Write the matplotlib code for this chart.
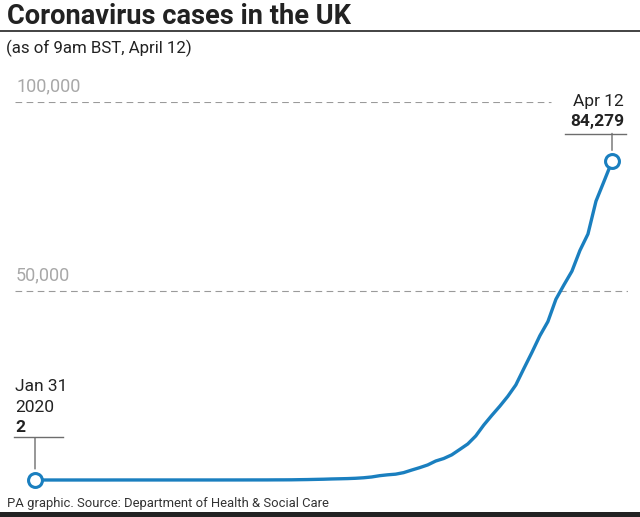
import numpy as np
import matplotlib
matplotlib.use("Agg")
import matplotlib.pyplot as plt
from matplotlib.lines import Line2D

# UK cumulative confirmed cases, 31 Jan - 12 Apr 2020
start_date = "2020-01-31"
cases = [2, 2, 2, 2, 2, 2, 3, 3, 3, 3,
         8, 8, 9, 9, 9, 9, 9, 9, 9, 9,
         9, 9, 9, 9, 13, 13, 15, 19, 20, 23,
         35, 40, 51, 85, 115, 163, 206, 273, 321, 373,
         456, 590, 798, 1140, 1372, 1543, 1950, 2626, 3269, 3983,
         5018, 5683, 6650, 8077, 9529, 11658, 14543, 17089, 19522, 22141,
         25150, 29474, 33718, 38168, 41903, 47806, 51608, 55242, 60733, 65077,
         73758, 78991, 84279]
grid_values = [50000, 100000]
grid_labels = ["50,000", "100,000"]
first_label = ["Jan 31", "2020", "2"]
last_label = ["Apr 12", "84,279"]

dates = np.datetime64(start_date) + np.arange(len(cases))
days = (dates - dates[0]).astype(int)

W, H = 640, 517
blue = "#1a7fbf"
font = "Roboto"
ink = "#222222"

fig = plt.figure(figsize=(W / 100, H / 100), dpi=100)
fig.patch.set_facecolor("white")

# axes placed so day 0 sits at x=35px and the last day at x=612px
px_per_day = (612 - 35) / days[-1]
x0 = -(35 - 15) / px_per_day
x1 = days[-1] + (628 - 612) / px_per_day
ax = fig.add_axes([15 / W, (H - 480) / H, (628 - 15) / W, (480 - 102) / H])
ax.set_xlim(x0, x1)
ax.set_ylim(0, 100000)
ax.axis("off")

# top gridline stops short of the end label
grid_ends = [1.0, 0.875]
for v, lab, xe in zip(grid_values, grid_labels, grid_ends):
    ax.axhline(v, xmax=xe, color="#9a9a9a", lw=0.8, ls=(0, (6, 4)), zorder=1)
    ax.annotate(lab, (x0, v), xytext=(1, 7), textcoords="offset pixels",
                ha="left", va="bottom", fontsize=13, color="#a8a8a8",
                family=font)

ax.plot(days, cases, color=blue, lw=2.4, solid_capstyle="round",
        solid_joinstyle="round", zorder=3, clip_on=False)
ax.plot([days[0], days[-1]], [cases[0], cases[-1]], "o", ms=10,
        mfc="white", mec=blue, mew=2.2, zorder=4, clip_on=False)

# leader lines and labels for first and last points
tick_color = "#6d6d6d"
ax.annotate("", (days[0], cases[0]), xytext=(0, 42), textcoords="offset pixels",
            arrowprops=dict(arrowstyle="-", color=tick_color, lw=1,
                            shrinkA=0, shrinkB=8))
ax.annotate("", (days[-1], cases[-1]), xytext=(0, 28), textcoords="offset pixels",
            arrowprops=dict(arrowstyle="-", color=tick_color, lw=1,
                            shrinkA=0, shrinkB=8))

fig.add_artist(Line2D([14 / W, 63 / W], [1 - 437 / H] * 2, color=tick_color, lw=1))
fig.add_artist(Line2D([565 / W, 626 / W], [1 - 134 / H] * 2, color=tick_color, lw=1))

lab_kw = dict(fontsize=12.5, family=font, color=ink, va="baseline")
fig.text(15 / W, 1 - 391 / H, first_label[0], **lab_kw)
fig.text(15 / W, 1 - 412 / H, first_label[1], **lab_kw)
fig.text(15 / W, 1 - 432 / H, first_label[2], weight="bold", **lab_kw)
fig.text(624 / W, 1 - 106 / H, last_label[0], ha="right", **lab_kw)
fig.text(624 / W, 1 - 126 / H, last_label[1], ha="right", weight="bold", **lab_kw)

# header and footer
fig.text(7 / W, 1 - 24 / H, "Coronavirus cases in the UK", fontsize=19.6,
         family=font, weight="bold", color=ink, va="baseline")
fig.add_artist(Line2D([0, 1], [1 - 31 / H] * 2, color=ink, lw=1.2))
fig.text(6 / W, 1 - 53 / H, "(as of 9am BST, April 12)", fontsize=12.2,
         family=font, color=ink, va="baseline")
fig.text(7 / W, 1 - 507 / H, "PA graphic. Source: Department of Health & Social Care",
         fontsize=9.4, family=font, color="#333333", va="baseline")
fig.add_artist(plt.Rectangle((0, 0), 1, 5 / H, transform=fig.transFigure,
                             color=ink, lw=0))

fig.savefig("out.png", dpi=100)
